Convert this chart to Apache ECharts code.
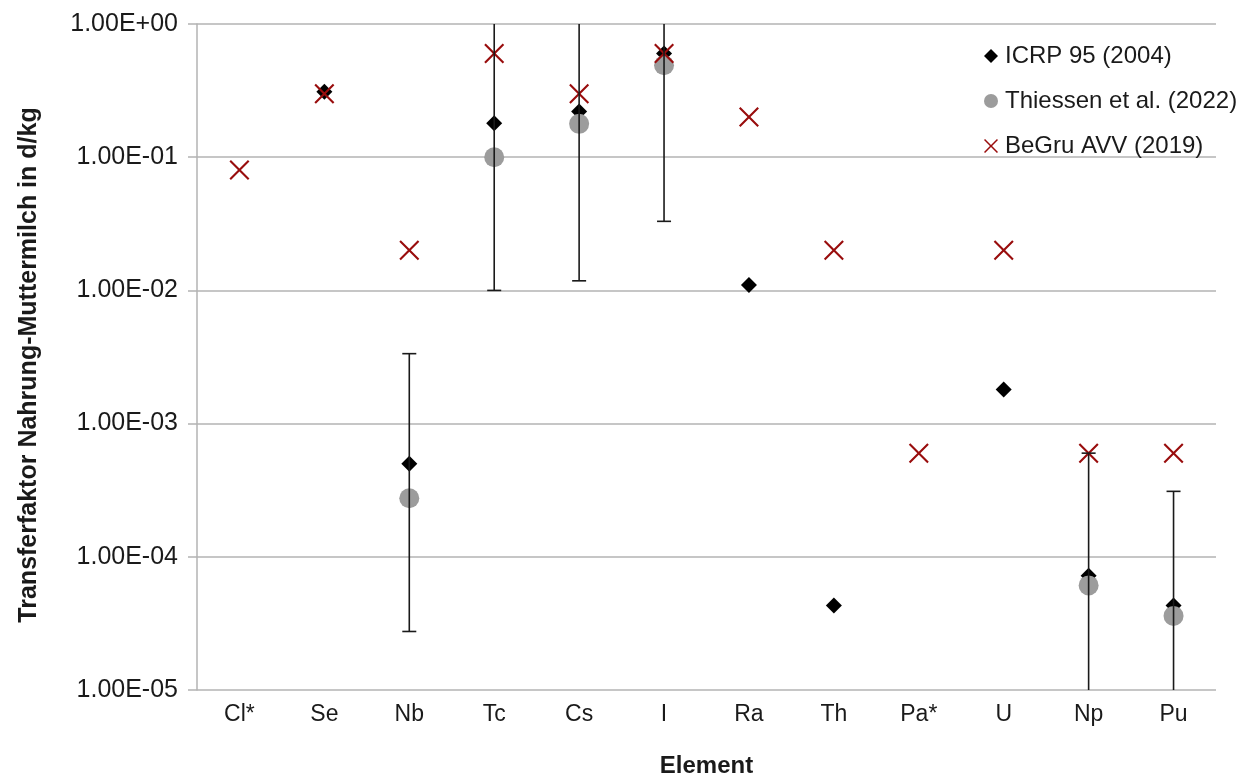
<!DOCTYPE html>
<html><head><meta charset="utf-8">
<script src="https://cdn.jsdelivr.net/npm/echarts@6/dist/echarts.min.js"></script>
<style>html,body{margin:0;padding:0;background:#fff;overflow:hidden}#c{width:1259px;height:776px}</style>
</head><body><div id="c"></div>
<script>
const categories = ['Cl*','Se','Nb','Tc','Cs','I','Ra','Th','Pa*','U','Np','Pu'];
const icrp      = [null, 0.31, 5.0e-4, 0.18, 0.22, 0.6, 0.011, 4.3e-5, null, 1.8e-3, 7.2e-5, 4.3e-5];
const icrpLow   = [null, null, 2.75e-5, 0.01, 0.0118, 0.033, null, null, null, null, 5e-6, 5e-6];
const icrpHigh  = [null, null, 3.35e-3, 3, 3, 3, null, null, null, null, 6e-4, 3.1e-4];
const thiessen  = [null, null, 2.75e-4, 0.1, 0.178, 0.49, null, null, null, null, 6.1e-5, 3.6e-5];
const begru     = [0.08, 0.3, 0.02, 0.6, 0.3, 0.6, 0.2, 0.02, 6e-4, 0.02, 6e-4, 6e-4];
const yTicks = ['1.00E-05','1.00E-04','1.00E-03','1.00E-02','1.00E-01','1.00E+00'];

const crossPath = 'path://M0,1.5 L1.5,0 L10,8.5 L18.5,0 L20,1.5 L11.5,10 L20,18.5 L18.5,20 L10,11.5 L1.5,20 L0,18.5 L8.5,10 Z';
const font = '"Liberation Sans", Arial, sans-serif';
const textColor = '#1a1a1a';

const errData = categories.map((c, i) => [i, icrpLow[i], icrpHigh[i]]).filter(d => d[1] != null);

const chart = echarts.init(document.getElementById('c'), null, {width: 1259, height: 776});
chart.setOption({
  animation: false,
  grid: {left: 197, right: 43, top: 24, bottom: 86, containLabel: false, outerBoundsMode: 'none'},
  legend: {
    orient: 'vertical', left: 979, top: 39, itemGap: 21,
    itemWidth: 14, itemHeight: 14,
    textStyle: {fontFamily: font, fontSize: 24, color: textColor, padding: [0, 0, 0, 2]},
    data: ['ICRP 95 (2004)', 'Thiessen et al. (2022)', 'BeGru AVV (2019)']
  },
  xAxis: {
    type: 'category', data: categories,
    name: 'Element', nameLocation: 'middle', nameGap: 64,
    nameTextStyle: {fontFamily: font, fontSize: 24, fontWeight: 'bold', color: textColor},
    axisLine: {show: false}, axisTick: {show: false},
    axisLabel: {fontFamily: font, fontSize: 23, color: textColor, margin: 13},
    splitLine: {show: false}
  },
  yAxis: {
    type: 'log', logBase: 10, min: 1e-5, max: 1,
    name: 'Transferfaktor Nahrung-Muttermilch in d/kg', nameLocation: 'middle', nameGap: 155,
    nameTextStyle: {fontFamily: font, fontSize: 25, fontWeight: 'bold', color: textColor, padding: [0, 16, 0, 0]},
    axisLine: {show: true, lineStyle: {color: '#b3b3b3', width: 1.5}},
    axisTick: {show: true, length: 9, lineStyle: {color: '#b3b3b3', width: 1.5}},
    axisLabel: {fontFamily: font, fontSize: 25, color: textColor, margin: 19,
      formatter: v => yTicks[Math.round(Math.log10(v)) + 5]},
    splitLine: {show: true, lineStyle: {color: '#b3b3b3', width: 1.5}}
  },
  series: [
    {
      name: 'ICRP 95 (2004)', type: 'scatter', symbol: 'diamond', symbolSize: 16,
      itemStyle: {color: '#000', opacity: 1}, z: 2,
      data: icrp.map((v, i) => [i, v]).filter(d => d[1] != null)
    },
    {
      name: 'Thiessen et al. (2022)', type: 'scatter', symbol: 'circle', symbolSize: 20,
      itemStyle: {color: '#9c9c9c', opacity: 1}, z: 3,
      data: thiessen.map((v, i) => [i, v]).filter(d => d[1] != null)
    },
    {
      name: 'BeGru AVV (2019)', type: 'scatter', symbol: crossPath, symbolSize: 20,
      itemStyle: {color: '#990d0d', opacity: 1}, z: 4,
      data: begru.map((v, i) => [i, v])
    },
    {
      type: 'custom', z: 5, clip: true, silent: true,
      data: errData,
      renderItem: (params, api) => {
        const x = api.value(0);
        const lo = api.coord([x, api.value(1)]);
        const hi = api.coord([x, api.value(2)]);
        const cap = 7;
        const style = {stroke: '#1a1a1a', lineWidth: 1.6};
        return {type: 'group', children: [
          {type: 'line', shape: {x1: lo[0], y1: lo[1], x2: hi[0], y2: hi[1]}, style},
          {type: 'line', shape: {x1: lo[0]-cap, y1: lo[1], x2: lo[0]+cap, y2: lo[1]}, style},
          {type: 'line', shape: {x1: hi[0]-cap, y1: hi[1], x2: hi[0]+cap, y2: hi[1]}, style}
        ]};
      },
      encode: {x: 0, y: [1, 2]}
    }
  ]
});
</script></body></html>
